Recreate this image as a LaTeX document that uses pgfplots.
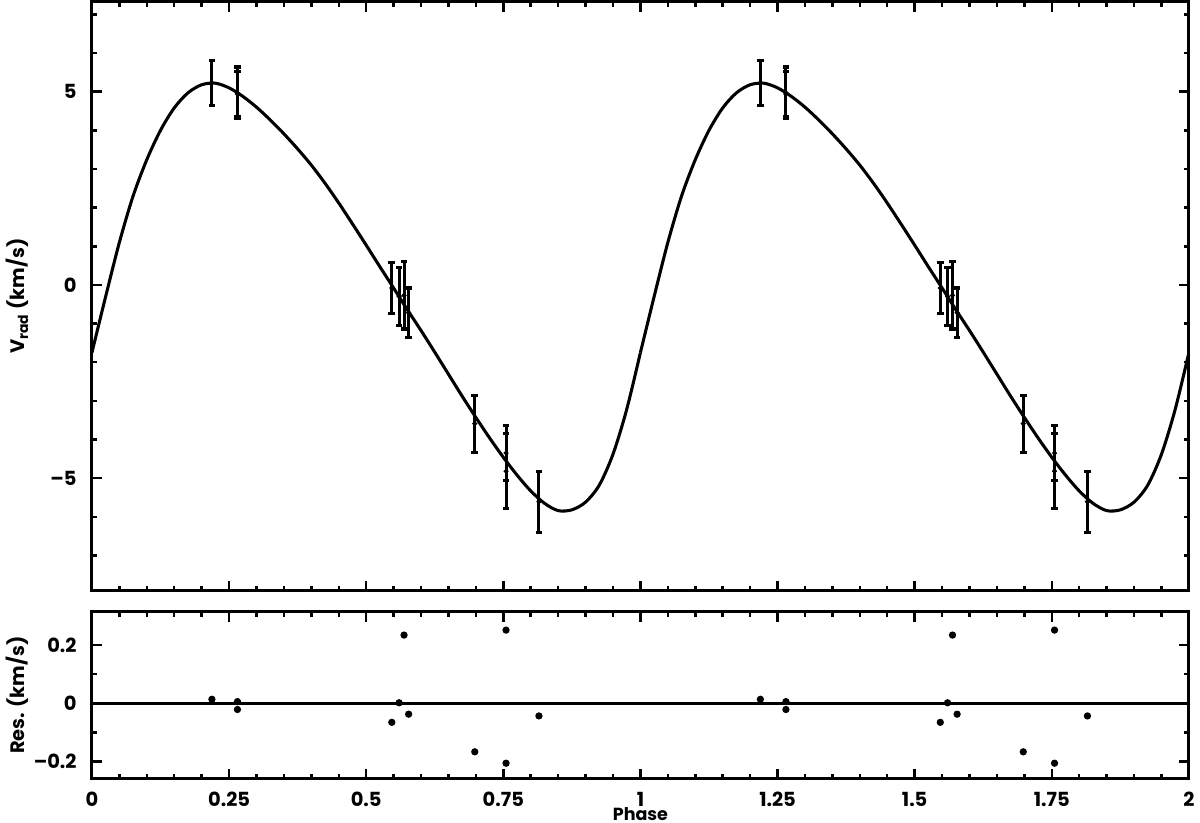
\documentclass[border=0pt]{standalone}
\usepackage{pgfplots}
\pgfplotsset{compat=1.18}
\usepackage{pgfplotstable}
\usepackage{fontspec}
\setmainfont{Poppins}
\usetikzlibrary{calc}

% fitted orbit, one phase cycle
\pgfplotstableread{
p v
0.000 -1.75
0.025 -0.30
0.050 1.10
0.075 2.30
0.100 3.24
0.125 4.00
0.150 4.58
0.175 4.97
0.200 5.18
0.225 5.22
0.250 5.10
0.275 4.88
0.300 4.60
0.325 4.27
0.350 3.91
0.375 3.52
0.400 3.10
0.425 2.63
0.450 2.12
0.475 1.58
0.500 1.03
0.525 0.47
0.550 -0.08
0.575 -0.64
0.600 -1.18
0.625 -1.74
0.650 -2.31
0.675 -2.88
0.700 -3.43
0.725 -3.96
0.750 -4.46
0.775 -4.92
0.800 -5.33
0.825 -5.65
0.850 -5.84
0.875 -5.82
0.900 -5.62
0.925 -5.18
0.950 -4.38
0.975 -3.22
1.000 -1.75
}\fitcurve

% measurements: phase, Vrad, error, residual
\pgfplotstableread{
p v e r
0.2187 5.23 0.58 0.014
0.2653 4.97 0.67 0.006
0.2653 4.94 0.59 -0.021
0.5467 -0.08 0.66 -0.065
0.5600 -0.30 0.75 0.002
0.5690 -0.27 0.87 0.234
0.5774 -0.72 0.64 -0.037
0.6980 -3.59 0.74 -0.166
0.7550 -4.35 0.72 0.251
0.7550 -4.82 0.97 -0.205
0.8150 -5.61 0.79 -0.043
}\rvdata

\begin{document}
\begin{tikzpicture}
\pgfplotsset{
  every axis/.append style={
    scale only axis, width=394.9pt,
    xmin=0, xmax=2,
    axis line style={line width=1.1pt},
    tick style={line width=0.9pt, black},
    major tick length=3.6pt, minor tick length=1.8pt,
    xtick={0,0.25,0.5,0.75,1,1.25,1.5,1.75,2},
    minor x tick num=4,
    font=\fontsize{7}{8}\selectfont\bfseries,
    yticklabel style={xshift=-2pt},
    xticklabel style={yshift=-1.2pt},
    ylabel style={at={(axis description cs:-0.068,0.5)}, anchor=center},
  },
  rvbars/.style={black, only marks, mark=*, mark size=0.7pt,
    error bars/.cd, y dir=both, y explicit,
    error bar style={line width=1.1pt},
    error mark options={rotate=90, line width=1.1pt, mark size=1.2pt}},
}
\begin{axis}[
  name=top, height=212pt,
  ymin=-7.91, ymax=7.33,
  ytick={-5,0,5}, yticklabels={–5,0,5},
  minor ytick={-7,-6,...,7},
  xticklabels={},
  ylabel={V\textsubscript{rad} (km/s)},
]
\addplot[black, line width=1.1pt, smooth] table[x=p, y=v] {\fitcurve};
\addplot[black, line width=1.1pt, smooth] table[x expr=\thisrow{p}+1, y=v] {\fitcurve};
\addplot[rvbars] table[x=p, y=v, y error=e] {\rvdata};
\addplot[rvbars] table[x expr=\thisrow{p}+1, y=v, y error=e] {\rvdata};
\end{axis}
\begin{axis}[
  name=bot,
  at={($(top.south west)+(0,-7.6pt)$)}, anchor=north west,
  height=60.1pt,
  ymin=-0.258, ymax=0.314,
  ytick={-0.2,0,0.2}, yticklabels={–0.2,0,0.2},
  minor ytick={-0.1,0.1},
  xticklabels={0,0.25,0.5,0.75,1,1.25,1.5,1.75,2},
  xlabel={Phase},
  xlabel style={at={(axis description cs:0.5,-0.212)}, anchor=center, font=\fontsize{6.3}{7}\selectfont\bfseries},
  ylabel={Res. (km/s)},
]
\addplot[black, line width=1.1pt] coordinates {(0,0) (2,0)};
\addplot[black, only marks, mark=*, mark size=1.1pt] table[x=p, y=r] {\rvdata};
\addplot[black, only marks, mark=*, mark size=1.1pt] table[x expr=\thisrow{p}+1, y=r] {\rvdata};
\end{axis}
\pgfresetboundingbox
\path ($(top.north west)+(-33.1pt,0.6pt)$) rectangle ($(bot.south east)+(4pt,-15.8pt)$);
\end{tikzpicture}
\end{document}
